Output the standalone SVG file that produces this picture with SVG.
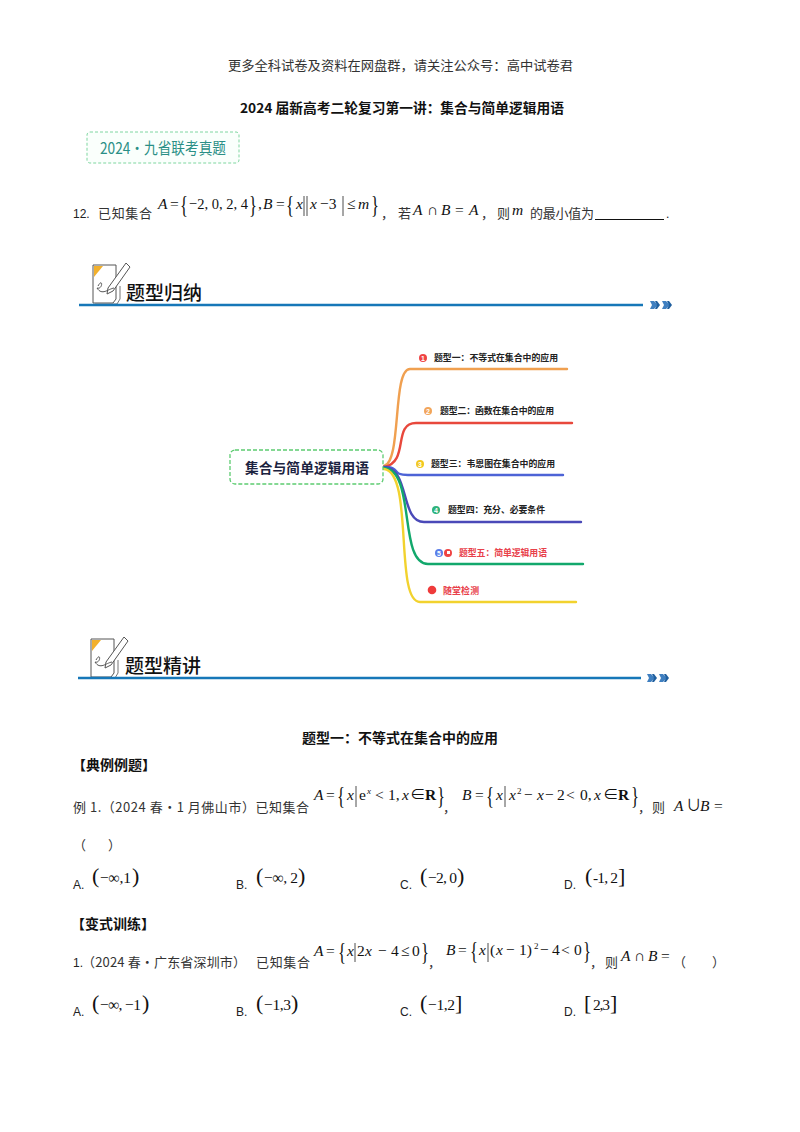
<svg xmlns="http://www.w3.org/2000/svg" width="800" height="1132" viewBox="0 0 800 1132">
<style>
text{font-family:"Liberation Serif","Noto Sans CJK SC",serif;fill:#1a1a1a}
.cn{font-family:"Noto Sans CJK SC",sans-serif;font-size:13px;fill:#333}
.b{font-family:"Noto Sans CJK SC",sans-serif;font-size:13.3px;font-weight:700;fill:#111}
.o{font-family:"Liberation Sans","Noto Sans CJK SC",sans-serif;font-size:12px;fill:#222}
.m{font-family:"Liberation Serif","Noto Sans CJK SC",serif;font-size:15.500px;fill:#111}
.p{font-family:"Liberation Serif",serif;font-size:22px;fill:#111}
.br{font-family:"Liberation Serif",serif;font-size:25px;font-weight:400;fill:#111}
.i{font-style:italic}
.r{font-weight:700}
.s{font-family:"Liberation Serif",serif;font-size:9px;fill:#111}
.h{font-family:"Noto Sans CJK SC",sans-serif;font-size:19px;font-weight:500;fill:#111}
.l{font-family:"Noto Sans CJK SC",sans-serif;font-size:8.900px;font-weight:700;fill:#222}
.n{font-family:"Liberation Sans",sans-serif;font-size:7px;font-weight:700;fill:#fff;text-anchor:middle}
.bar{fill:none;stroke:#1677b8;stroke-width:2.400}
.c{fill:none;stroke-width:2.400;stroke-linecap:round}
.v{fill:none;stroke:#222;stroke-width:.8}
</style>
<defs>
<g id="icon">
<path d="M1 3H24V37L21 41H1Z" fill="#fff" stroke="#555" stroke-width="1"/>
<path d="M3 42H25L28 37V24" fill="none" stroke="#777" stroke-width="1"/>
<path d="M2 4H11L2 15Z" fill="#f2b02c"/>
<path d="M16 26L34 1L38 5L21 29L15 32Z" fill="#fff" stroke="#555" stroke-width="1"/>
<path d="M6 24C11 15 11 28 5 26C10 34 16 27 22 26" fill="none" stroke="#555" stroke-width="1"/>
</g>
<g id="arrows" fill="#3f7fc0">
<path d="M0 -4H4L8 0L4 4H0L2 0Z"/><path d="M5 -4H7L10 0L7 4H5L7 0Z" fill="#1f5f9f"/>
<path d="M12 -4H16L20 0L16 4H12L14 0Z"/><path d="M17 -4H19L22 0L19 4H17L19 0Z" fill="#1f5f9f"/>
</g>
</defs>
<rect width="800" height="1132" fill="#fff"/>
<text class="cn" x="228" y="70" textLength="345" lengthAdjust="spacingAndGlyphs">更多全科试卷及资料在网盘群，请关注公众号：高中试卷君</text>
<text class="b" x="240" y="113" textLength="324" lengthAdjust="spacingAndGlyphs">2024 届新高考二轮复习第一讲：集合与简单逻辑用语</text>
<g id="tag">
<rect x="87" y="132" width="152" height="31" rx="3" fill="#fafffc" stroke="#7fd6a0" stroke-width="1" stroke-dasharray="3 2"/>
<text x="100" y="154" font-size="15.500" style="font-family:'Noto Sans CJK SC',sans-serif;fill:#2a8f86" textLength="126" lengthAdjust="spacingAndGlyphs">2024·九省联考真题</text>
</g>
<g id="q12">
<text class="o" x="73" y="218">12.</text>
<text class="cn" x="98" y="218" textLength="54">已知集合</text>
<text class="m i" x="158" y="209">A</text><text class="m" x="170" y="209">=</text>
<text class="br" x="180" y="213" textLength="8" lengthAdjust="spacingAndGlyphs">{</text><text class="m" x="189" y="209" textLength="59" lengthAdjust="spacingAndGlyphs">−2, 0, 2, 4</text><text class="br" x="249" y="213" textLength="8" lengthAdjust="spacingAndGlyphs">}</text>
<text class="m" x="258" y="209">,</text><text class="m i" x="263" y="209">B</text><text class="m" x="276" y="209">=</text>
<text class="br" x="286" y="213" textLength="8" lengthAdjust="spacingAndGlyphs">{</text><text class="m i" x="296" y="209">x</text>
<path class="v" d="M304 196V216M307 196V216M343 196V216"/>
<text class="m i" x="310" y="209">x</text><text class="m" x="320" y="209">−3</text>
<text class="m" x="347" y="209">≤</text><text class="m i" x="358" y="209">m</text><text class="br" x="371" y="213" textLength="8" lengthAdjust="spacingAndGlyphs">}</text>
<text class="cn" x="381" y="218">，</text><text class="cn" x="398" y="218">若</text>
<text class="m i" x="413" y="215">A</text><text class="m" x="427" y="215">∩</text><text class="m i" x="441" y="215">B</text><text class="m" x="455" y="215">=</text><text class="m i" x="469" y="215">A</text>
<text class="cn" x="481" y="218">，</text><text class="cn" x="497" y="218">则</text><text class="m i" x="512" y="215">m</text>
<text class="cn" x="530" y="218" textLength="64">的最小值为</text>
<path d="M595 219.500H664" stroke="#111" stroke-width="1"/><text class="o" x="666" y="218">.</text>
</g>
<g id="head1">
<use href="#icon" x="92" y="262"/>
<text class="h" x="126" y="300" textLength="76" lengthAdjust="spacingAndGlyphs">题型归纳</text>
<path class="bar" d="M79 305H643"/>
<use href="#arrows" x="650" y="305"/>
</g>
<g id="connectors">
<path class="c" stroke="#f0a050" d="M384 466C402 462 392 369 410 369H567"/>
<path class="c" stroke="#e8483c" d="M384 467C410 462 392 423 416 423H572"/>
<path class="c" stroke="#4d63d6" d="M384 467C402 467 390 475 408 475H563"/>
<path class="c" stroke="#4a49b8" d="M384 467C410 468 400 522 424 522H581"/>
<path class="c" stroke="#12a86c" d="M384 468C416 470 398 564 428 564H583"/>
<path class="c" stroke="#f2d22e" d="M384 469C414 472 394 602 420 602H576"/>
</g>
<g id="root">
<rect x="230" y="450" width="153" height="34" rx="5" fill="#fff" stroke="#5ccb70" stroke-width="1.300" stroke-dasharray="4 2"/>
<text x="245" y="473" style="font-family:'Noto Sans CJK SC',sans-serif;font-size:13.700px;font-weight:700;fill:#1c2340" textLength="124">集合与简单逻辑用语</text>
</g>
<g id="n1"><circle cx="423" cy="358" r="4" fill="#ef4444"/><text class="n" x="423" y="360.500">1</text><text class="l" x="434" y="361" textLength="124">题型一：不等式在集合中的应用</text></g>
<g id="n2"><circle cx="428" cy="411" r="4" fill="#f2a55a"/><text class="n" x="428" y="413.500">2</text><text class="l" x="440" y="414" textLength="114">题型二：函数在集合中的应用</text></g>
<g id="n3"><circle cx="420" cy="464" r="4" fill="#f2c81e"/><text class="n" x="420" y="466.500">3</text><text class="l" x="431" y="467" textLength="124">题型三：韦恩图在集合中的应用</text></g>
<g id="n4"><circle cx="436" cy="510" r="4" fill="#2fb37c"/><text class="n" x="436" y="512.500">4</text><text class="l" x="448" y="513" textLength="97">题型四：充分、必要条件</text></g>
<g id="n5"><circle cx="439" cy="553" r="4" fill="#5b7de8"/><text class="n" x="439" y="555.500">5</text><circle cx="448" cy="553" r="4" fill="#ef4444"/><path d="M447 551h3v3h-3z" fill="#fff"/><text class="l" x="459" y="556" style="fill:#e8404a" textLength="88">题型五：简单逻辑用语</text></g>
<g id="n6"><circle cx="432" cy="590" r="4.300" fill="#ef3b3b"/><text class="l" x="443" y="594" style="fill:#e8404a" textLength="36">随堂检测</text></g>
<g id="head2">
<use href="#icon" x="90" y="636"/>
<text class="h" x="125" y="673" textLength="76" lengthAdjust="spacingAndGlyphs">题型精讲</text>
<path class="bar" d="M78 678H641"/>
<use href="#arrows" x="647" y="678"/>
</g>
<g id="sec">
<text class="b" x="302" y="743" textLength="196" lengthAdjust="spacingAndGlyphs">题型一：不等式在集合中的应用</text>
<text class="b" x="72" y="770" textLength="84" lengthAdjust="spacingAndGlyphs">【典例例题】</text>
<text class="cn" x="73" y="812" textLength="236" lengthAdjust="spacing">例 1.（2024 春·1 月佛山市）已知集合</text>
<text class="m i" x="314" y="800">A</text><text class="m" x="326" y="800">=</text><text class="br" x="337" y="804" textLength="8" lengthAdjust="spacingAndGlyphs">{</text><text class="m i" x="347" y="800">x</text><path class="v" d="M356 786V807M505 786V807"/>
<text class="m" x="359" y="800">e</text><text class="s i" x="367" y="794">x</text><text class="m" x="375" y="800">&lt;</text><text class="m" x="388" y="800">1,</text><text class="m i" x="402" y="800">x</text><text class="m" x="410" y="800">∈</text><text class="m r" x="425" y="800">R</text><text class="br" x="437" y="804" textLength="8" lengthAdjust="spacingAndGlyphs">}</text>
<text class="cn" x="443" y="812">，</text>
<text class="m i" x="462" y="800">B</text><text class="m" x="475" y="800">=</text><text class="br" x="486" y="804" textLength="8" lengthAdjust="spacingAndGlyphs">{</text><text class="m i" x="496" y="800">x</text>
<text class="m i" x="509" y="800">x</text><text class="s" x="517" y="794">2</text><text class="m" x="524" y="800">−</text><text class="m i" x="537" y="800">x</text><text class="m" x="545" y="800">−</text><text class="m" x="557" y="800">2</text><text class="m" x="566" y="800">&lt;</text><text class="m" x="580" y="800">0,</text><text class="m i" x="594" y="800">x</text><text class="m" x="603" y="800">∈</text><text class="m r" x="618" y="800">R</text><text class="br" x="631" y="804" textLength="8" lengthAdjust="spacingAndGlyphs">}</text>
<text class="cn" x="638" y="812">，</text><text class="cn" x="652" y="812">则</text><text class="m i" x="674" y="811">A</text><text class="m" x="686" y="811">∪</text><text class="m i" x="700" y="811">B</text><text class="m" x="714" y="811">=</text>
<text class="cn" x="73" y="850">（</text><text class="cn" x="108" y="850">）</text>
</g>
<g id="opts1">
<text class="o" x="73" y="889">A.</text><text class="p" x="92" y="883">(</text><text class="m" x="100" y="883" textLength="31">−∞,1</text><text class="p" x="132" y="883">)</text>
<text class="o" x="236" y="889">B.</text><text class="p" x="256" y="883">(</text><text class="m" x="264" y="883" textLength="34">−∞, 2</text><text class="p" x="298" y="883">)</text>
<text class="o" x="400" y="889">C.</text><text class="p" x="420" y="883">(</text><text class="m" x="428" y="883" textLength="29">−2, 0</text><text class="p" x="457" y="883">)</text>
<text class="o" x="564" y="889">D.</text><text class="p" x="585" y="883">(</text><text class="m" x="593" y="883" textLength="25">-1, 2</text><text class="p" x="618" y="883">]</text>
</g>
<g id="sec2">
<text class="b" x="71" y="929" textLength="84" lengthAdjust="spacingAndGlyphs">【变式训练】</text>
<text class="o" x="73" y="967">1.</text><text class="cn" x="82" y="967" textLength="164" lengthAdjust="spacing">（2024 春·广东省深圳市）</text>
<text class="cn" x="256" y="967" textLength="54">已知集合</text>
<text class="m i" x="314" y="956">A</text><text class="m" x="326" y="956">=</text><text class="br" x="338" y="960" textLength="8" lengthAdjust="spacingAndGlyphs">{</text><text class="m i" x="347" y="956">x</text><path class="v" d="M355 943V962M488 943V962"/>
<text class="m" x="357" y="956">2</text><text class="m i" x="365" y="956">x</text><text class="m" x="378" y="956">−</text><text class="m" x="391" y="956">4</text><text class="m" x="401" y="956">≤</text><text class="m" x="412" y="956">0</text><text class="br" x="421" y="960" textLength="8" lengthAdjust="spacingAndGlyphs">}</text>
<text class="cn" x="428" y="967">，</text>
<text class="m i" x="446" y="955">B</text><text class="m" x="458" y="955">=</text><text class="br" x="470" y="959" textLength="8" lengthAdjust="spacingAndGlyphs">{</text><text class="m i" x="479" y="955">x</text>
<text class="m" x="490" y="955">(</text><text class="m i" x="496" y="955">x</text><text class="m" x="506" y="955">−</text><text class="m" x="519" y="955">1)</text><text class="s" x="534" y="949">2</text><text class="m" x="540" y="955">−</text><text class="m" x="552" y="955">4</text><text class="m" x="561" y="955">&lt;</text><text class="m" x="574" y="955">0</text><text class="br" x="583" y="959" textLength="8" lengthAdjust="spacingAndGlyphs">}</text>
<text class="cn" x="590" y="967">，</text><text class="cn" x="605" y="967">则</text><text class="m i" x="621" y="961">A</text><text class="m" x="634" y="961">∩</text><text class="m i" x="648" y="961">B</text><text class="m" x="661" y="961">=</text>
<text class="cn" x="673" y="967">（</text><text class="cn" x="712" y="967">）</text>
</g>
<g id="opts2">
<text class="o" x="73" y="1016">A.</text><text class="p" x="92" y="1010">(</text><text class="m" x="100" y="1010" textLength="41">−∞, −1</text><text class="p" x="142" y="1010">)</text>
<text class="o" x="236" y="1016">B.</text><text class="p" x="256" y="1010">(</text><text class="m" x="264" y="1010" textLength="27">−1,3</text><text class="p" x="291" y="1010">)</text>
<text class="o" x="400" y="1016">C.</text><text class="p" x="420" y="1010">(</text><text class="m" x="428" y="1010" textLength="27">−1,2</text><text class="p" x="455" y="1010">]</text>
<text class="o" x="564" y="1016">D.</text><text class="p" x="584" y="1010">[</text><text class="m" x="593" y="1010" textLength="17">2,3</text><text class="p" x="610" y="1010">]</text>
</g>
</svg>
